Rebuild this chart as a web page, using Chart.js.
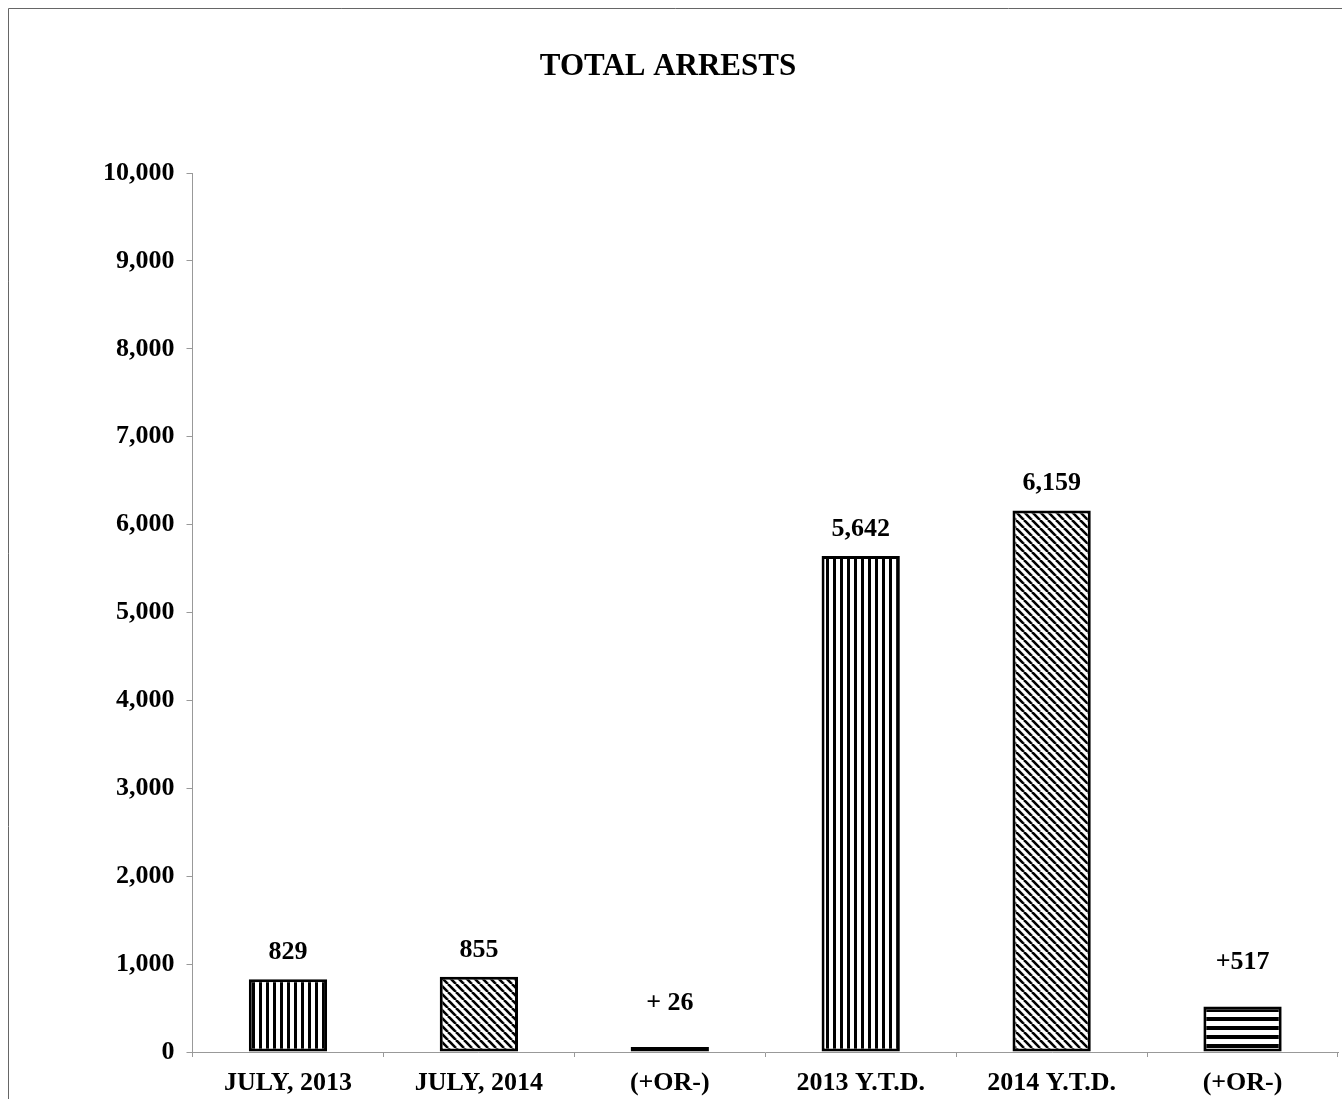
<!DOCTYPE html>
<html>
<head>
<meta charset="utf-8">
<script src="https://cdn.jsdelivr.net/npm/chart.js@4"></script>
<style>
  body { margin: 0; background: #fff; }
  #wrap { width: 1342px; height: 1099px; position: relative; }
</style>
</head>
<body>
<div id="wrap"><canvas id="grafica"></canvas></div>
<script>
// datos del grafico
const titulo = "TOTAL ARRESTS";
const categorias = ["JULY, 2013", "JULY, 2014", "(+OR-)", "2013 Y.T.D.", "2014 Y.T.D.", "(+OR-)"];
const valores = [829, 855, 26, 5642, 6159, 517];
const etiquetas = ["829", "855", "+ 26", "5,642", "6,159", "+517"];
const tramas = ["vertical", "diagonal", "horizontal", "vertical", "diagonal", "horizontal"];

const serif = "'Liberation Serif', 'Times New Roman', serif";

const makePattern = (tipo) => {
    const c = document.createElement("canvas");
    const size = tipo === "diagonal" ? 8 : tipo === "vertical" ? 7 : 9;
    c.width = size; c.height = size;
    const x = c.getContext("2d");
    x.fillStyle = "#fff";
    x.fillRect(0, 0, size, size);
    x.fillStyle = "#000";
    x.strokeStyle = "#000";
    if (tipo === "vertical") x.fillRect(0, 0, 3, size);
    if (tipo === "horizontal") x.fillRect(0, 0, size, 4);
    if (tipo === "diagonal") {
        x.lineWidth = 2.6;
        for (let k = -1; k <= 1; k++) {
            x.beginPath();
            x.moveTo(k * size, 0);
            x.lineTo(k * size + size, size);
            x.stroke();
        }
    }
    return x.createPattern(c, "repeat");
};

const etiquetasPlugin = {
    id: "etiquetas",
    afterDatasetsDraw(chart) {
        const ctx = chart.ctx;
        const meta = chart.getDatasetMeta(0);
        ctx.save();
        ctx.font = "bold 26px " + serif;
        ctx.fillStyle = "#000";
        ctx.textAlign = "center";
        ctx.textBaseline = "middle";
        meta.data.forEach((bar, i) => {
            const extra = categorias[i] === "(+OR-)" ? 44 : 27;
            ctx.fillText(etiquetas[i], bar.x, bar.y - extra);
        });
        ctx.restore();
    }
};

// marco exterior y titulo centrado en la pagina
const marcoPlugin = {
    id: "marco",
    beforeDraw(chart) {
        const ctx = chart.ctx;
        ctx.save();
        ctx.strokeStyle = "#666";
        ctx.lineWidth = 1;
        ctx.beginPath();
        ctx.moveTo(8.5, chart.height);
        ctx.lineTo(8.5, 8.5);
        ctx.lineTo(chart.width, 8.5);
        ctx.stroke();
        ctx.font = "bold 31px " + serif;
        ctx.fillStyle = "#000";
        ctx.textAlign = "center";
        ctx.textBaseline = "middle";
        ctx.fillText(titulo, 668, 67);
        ctx.restore();
    }
};

const grafDOM = document.querySelector("#grafica");

new Chart(grafDOM, {
    type: "bar",
    data: {
        labels: categorias,
        datasets: [{
            data: valores,
            backgroundColor: tramas.map(makePattern),
            borderColor: "#000",
            borderWidth: 3,
            borderSkipped: false,
            minBarLength: 5,
            barPercentage: 0.41,
            categoryPercentage: 1
        }]
    },
    options: {
        responsive: true,
        maintainAspectRatio: false,
        animation: false,
        layout: { padding: { left: 91, right: 4, top: 173, bottom: -10 } },
        plugins: {
            legend: { display: false },
            tooltip: { enabled: false },
            title: { display: false }
        },
        scales: {
            x: {
                grid: { drawOnChartArea: false, drawTicks: true, tickLength: 5, color: "#999" },
                border: { display: true, color: "#999" },
                ticks: {
                    color: "#000",
                    padding: 13,
                    font: { family: serif, size: 26, weight: "bold", lineHeight: 1 }
                }
            },
            y: {
                min: 0,
                max: 10000,
                grid: { drawOnChartArea: false, drawTicks: true, tickLength: 6, color: "#999" },
                border: { display: true, color: "#999" },
                ticks: {
                    stepSize: 1000,
                    color: "#000",
                    padding: 12,
                    font: { family: serif, size: 26, weight: "bold" },
                    callback: (v) => v.toLocaleString("en-US")
                }
            }
        }
    },
    plugins: [etiquetasPlugin, marcoPlugin]
});
</script>
</body>
</html>
